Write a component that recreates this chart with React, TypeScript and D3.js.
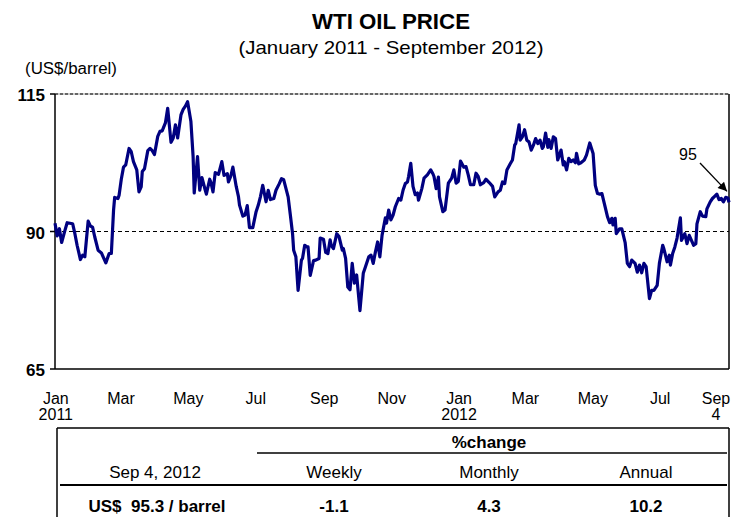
import React from 'react'
import * as d3 from 'd3'

// WTI spot price (US$/barrel)
const wti2011: [string, number][] = [
  ['2011-01-03', 91.5], ['2011-01-05', 89.2], ['2011-01-07', 90.5], ['2011-01-09', 88.0], ['2011-01-12', 90.2],
  ['2011-01-14', 91.6], ['2011-01-19', 91.4], ['2011-01-21', 89.6], ['2011-01-23', 87.5], ['2011-01-26', 84.9],
  ['2011-01-28', 85.7], ['2011-01-30', 85.4], ['2011-02-02', 91.9], ['2011-02-04', 91.0], ['2011-02-06', 90.8],
  ['2011-02-08', 89.0], ['2011-02-11', 86.6], ['2011-02-14', 86.1], ['2011-02-18', 84.3], ['2011-02-21', 86.0],
  ['2011-02-23', 86.0], ['2011-02-25', 93.9], ['2011-02-26', 96.2], ['2011-03-01', 96.0], ['2011-03-02', 96.6],
  ['2011-03-04', 99.5], ['2011-03-06', 101.7], ['2011-03-08', 102.1], ['2011-03-11', 105.1], ['2011-03-13', 104.5],
  ['2011-03-15', 102.7], ['2011-03-18', 101.2], ['2011-03-20', 97.2], ['2011-03-22', 98.1], ['2011-03-23', 100.9],
  ['2011-03-25', 101.4], ['2011-03-28', 104.7], ['2011-03-30', 105.1], ['2011-04-01', 104.7], ['2011-04-03', 104.0],
  ['2011-04-06', 107.3], ['2011-04-08', 108.2], ['2011-04-10', 108.3], ['2011-04-13', 109.8], ['2011-04-15', 112.4],
  ['2011-04-18', 106.2], ['2011-04-20', 107.0], ['2011-04-22', 109.4], ['2011-04-24', 107.0], ['2011-04-27', 111.2],
  ['2011-04-29', 112.2], ['2011-05-01', 112.8], ['2011-05-03', 113.6], ['2011-05-06', 110.0], ['2011-05-08', 103.6],
  ['2011-05-09', 97.0], ['2011-05-12', 103.6], ['2011-05-14', 97.5], ['2011-05-16', 99.8], ['2011-05-19', 97.5],
  ['2011-05-20', 96.8], ['2011-05-23', 99.5], ['2011-05-24', 99.0], ['2011-05-26', 97.2], ['2011-05-28', 100.7],
  ['2011-05-31', 100.4], ['2011-06-03', 102.7], ['2011-06-05', 100.2], ['2011-06-08', 100.5], ['2011-06-09', 99.0],
  ['2011-06-11', 100.0], ['2011-06-13', 101.7], ['2011-06-16', 98.2], ['2011-06-18', 96.4], ['2011-06-19', 94.8],
  ['2011-06-22', 92.8], ['2011-06-24', 93.0], ['2011-06-26', 94.7], ['2011-06-28', 90.7], ['2011-07-01', 90.7],
  ['2011-07-04', 93.6], ['2011-07-06', 94.8], ['2011-07-08', 96.4], ['2011-07-10', 98.4], ['2011-07-13', 95.4],
  ['2011-07-15', 97.5], ['2011-07-17', 95.8], ['2011-07-20', 96.0], ['2011-07-22', 97.5], ['2011-07-25', 98.7],
  ['2011-07-27', 99.6], ['2011-07-29', 99.4], ['2011-08-02', 96.3], ['2011-08-04', 93.0], ['2011-08-06', 89.6],
  ['2011-08-07', 86.6], ['2011-08-09', 85.4], ['2011-08-11', 79.3], ['2011-08-14', 84.8], ['2011-08-15', 85.1],
  ['2011-08-17', 87.5], ['2011-08-19', 87.2], ['2011-08-20', 87.2], ['2011-08-22', 82.0], ['2011-08-25', 84.7],
  ['2011-08-27', 84.8], ['2011-08-30', 85.1], ['2011-08-31', 88.8], ['2011-09-03', 88.6], ['2011-09-05', 86.2],
  ['2011-09-07', 86.0], ['2011-09-09', 88.5], ['2011-09-10', 87.5], ['2011-09-12', 86.9], ['2011-09-15', 89.6],
  ['2011-09-17', 89.1], ['2011-09-20', 86.6], ['2011-09-21', 86.9], ['2011-09-23', 85.1], ['2011-09-25', 79.9],
  ['2011-09-27', 79.4], ['2011-09-29', 84.2], ['2011-10-01', 80.6], ['2011-10-03', 82.1], ['2011-10-06', 75.6],
  ['2011-10-09', 82.4], ['2011-10-11', 83.6], ['2011-10-14', 85.4], ['2011-10-16', 85.7], ['2011-10-18', 84.2],
  ['2011-10-20', 86.3], ['2011-10-22', 88.1], ['2011-10-24', 85.4], ['2011-10-26', 89.3], ['2011-10-29', 92.5],
  ['2011-10-30', 91.5], ['2011-11-01', 93.9], ['2011-11-03', 92.1], ['2011-11-05', 93.0], ['2011-11-07', 94.5],
  ['2011-11-10', 96.0], ['2011-11-12', 95.7], ['2011-11-14', 97.5], ['2011-11-16', 98.7], ['2011-11-18', 99.0],
  ['2011-11-19', 100.0], ['2011-11-21', 102.4], ['2011-11-23', 98.2], ['2011-11-25', 96.7], ['2011-11-27', 97.0],
  ['2011-11-28', 95.7], ['2011-12-01', 97.8], ['2011-12-03', 99.7], ['2011-12-06', 100.3], ['2011-12-09', 101.2],
  ['2011-12-11', 100.5], ['2011-12-12', 100.0], ['2011-12-14', 97.8], ['2011-12-16', 99.9], ['2011-12-17', 96.3],
  ['2011-12-20', 93.6], ['2011-12-22', 93.9], ['2011-12-25', 98.8], ['2011-12-28', 99.7], ['2011-12-30', 101.2],
]

const wti2012: [string, number][] = [
  ['2012-01-01', 98.8], ['2012-01-03', 99.1], ['2012-01-05', 102.8], ['2012-01-08', 101.7], ['2012-01-10', 101.8],
  ['2012-01-12', 100.3], ['2012-01-14', 98.5], ['2012-01-17', 98.5], ['2012-01-19', 100.6], ['2012-01-21', 100.0],
  ['2012-01-23', 98.5], ['2012-01-26', 98.9], ['2012-01-28', 99.5], ['2012-01-31', 98.9], ['2012-02-03', 98.2],
  ['2012-02-05', 96.3], ['2012-02-08', 97.2], ['2012-02-10', 97.5], ['2012-02-12', 99.0], ['2012-02-14', 98.7],
  ['2012-02-16', 101.2], ['2012-02-19', 102.3], ['2012-02-21', 103.0], ['2012-02-23', 105.7], ['2012-02-24', 106.0],
  ['2012-02-27', 109.4], ['2012-02-28', 106.6], ['2012-03-01', 107.2], ['2012-03-03', 108.5], ['2012-03-05', 106.6],
  ['2012-03-07', 106.3], ['2012-03-09', 104.8], ['2012-03-11', 105.7], ['2012-03-13', 106.9], ['2012-03-15', 106.0],
  ['2012-03-17', 106.6], ['2012-03-19', 105.1], ['2012-03-20', 105.4], ['2012-03-22', 107.9], ['2012-03-24', 105.3],
  ['2012-03-25', 106.7], ['2012-03-27', 105.1], ['2012-03-29', 107.2], ['2012-03-31', 106.9], ['2012-04-02', 103.0],
  ['2012-04-05', 104.8], ['2012-04-07', 102.1], ['2012-04-08', 102.7], ['2012-04-10', 101.2], ['2012-04-12', 103.3],
  ['2012-04-14', 102.7], ['2012-04-16', 103.0], ['2012-04-18', 102.5], ['2012-04-19', 104.2], ['2012-04-21', 102.3],
  ['2012-04-23', 102.5], ['2012-04-26', 103.0], ['2012-04-28', 103.9], ['2012-05-01', 106.1], ['2012-05-04', 104.2],
  ['2012-05-06', 98.4], ['2012-05-08', 96.9], ['2012-05-10', 96.8], ['2012-05-12', 96.9], ['2012-05-15', 94.4],
  ['2012-05-17', 92.7], ['2012-05-19', 91.6], ['2012-05-21', 92.4], ['2012-05-22', 91.2], ['2012-05-24', 92.4],
  ['2012-05-25', 89.6], ['2012-05-28', 90.5], ['2012-05-30', 90.5], ['2012-06-02', 88.0], ['2012-06-04', 84.2],
  ['2012-06-06', 83.6], ['2012-06-08', 84.8], ['2012-06-11', 84.2], ['2012-06-13', 82.6], ['2012-06-15', 83.9],
  ['2012-06-17', 82.5], ['2012-06-19', 84.2], ['2012-06-21', 83.6], ['2012-06-24', 77.8], ['2012-06-26', 79.3],
  ['2012-06-28', 79.3], ['2012-07-01', 80.2], ['2012-07-03', 84.2], ['2012-07-06', 87.5], ['2012-07-07', 86.9],
  ['2012-07-10', 84.5], ['2012-07-12', 85.7], ['2012-07-13', 83.9], ['2012-07-15', 86.0], ['2012-07-17', 87.2],
  ['2012-07-19', 88.8], ['2012-07-22', 92.5], ['2012-07-23', 88.4], ['2012-07-26', 89.6], ['2012-07-28', 87.8],
  ['2012-07-30', 89.3], ['2012-08-01', 88.4], ['2012-08-03', 87.5], ['2012-08-05', 87.8], ['2012-08-06', 91.4],
  ['2012-08-09', 93.6], ['2012-08-11', 92.8], ['2012-08-14', 92.7], ['2012-08-15', 94.1], ['2012-08-18', 95.4],
  ['2012-08-20', 96.0], ['2012-08-22', 96.4], ['2012-08-24', 96.8], ['2012-08-26', 95.8], ['2012-08-28', 96.0],
  ['2012-08-30', 95.4], ['2012-09-01', 96.2], ['2012-09-03', 96.1], ['2012-09-04', 95.3],
]

const yTicks = [65, 90, 115]
const monthTicks = ['2011-01-01', '2011-03-01', '2011-05-01', '2011-07-01', '2011-09-01', '2011-11-01',
  '2012-01-01', '2012-03-01', '2012-05-01', '2012-07-01', '2012-09-01']
const monthLabels = ['Jan', 'Mar', 'May', 'Jul', 'Sep', 'Nov', 'Jan', 'Mar', 'May', 'Jul', 'Sep']
const subLabels = ['2011', '', '', '', '', '', '2012', '', '', '', '4']

const tableHeads = ['Weekly', 'Monthly', 'Annual']
const tableValues = ['-1.1', '4.3', '10.2']
const latestDate = 'Sep 4, 2012'
const latestPrice = 'US$  95.3 / barrel'
const calloutValue = '95'

const FONT = '"Liberation Sans", Arial, sans-serif'
const parse = d3.timeParse('%Y-%m-%d')

export default function App() {
  const data = [...wti2011, ...wti2012].map(([d, v]) => ({ date: parse(d) as Date, v }))

  const x = d3.scaleTime()
    .domain([parse('2011-01-03') as Date, parse('2012-09-04') as Date])
    .range([55, 729])
  const y = d3.scaleLinear().domain([65, 115]).range([369, 94])

  const line = d3.line<{ date: Date, v: number }>()
    .x(d => x(d.date))
    .y(d => y(d.v))

  const last = data[data.length - 1]
  const tipX = x(last.date) - 2
  const tipY = y(last.v) - 11

  const colX = [334, 489, 646]

  return (
    <svg width={732} height={517} style={{ position: 'absolute', left: 0, top: 0, fontFamily: FONT }}>
      <rect width={732} height={517} fill="#fff" />
      <defs>
        <marker id="arr" viewBox="0 0 10 10" refX="10" refY="5" markerWidth="11" markerHeight="9"
          markerUnits="userSpaceOnUse" orient="auto">
          <path d="M0,0 L10,5 L0,10 z" fill="#000" />
        </marker>
      </defs>

      <text x={391} y={29} textAnchor="middle" fontSize={22} fontWeight="bold" textLength={158} lengthAdjust="spacingAndGlyphs">WTI OIL PRICE</text>
      <text x={391} y={54} textAnchor="middle" fontSize={19} textLength={305} lengthAdjust="spacingAndGlyphs">(January 2011 - September 2012)</text>
      <text x={25} y={74} fontSize={16} textLength={92} lengthAdjust="spacingAndGlyphs">(US$/barrel)</text>

      {/* gridlines */}
      <line x1={55} x2={729} y1={y(115)} y2={y(115)} stroke="#999" strokeWidth={1} />
      <line x1={55} x2={729} y1={y(115)} y2={y(115)} stroke="#000" strokeWidth={1} strokeDasharray="3,2" />
      <line x1={55} x2={729} y1={y(90)} y2={y(90)} stroke="#000" strokeWidth={1} strokeDasharray="4,3" />

      {/* frame */}
      <line x1={55} x2={55} y1={y(115)} y2={y(65)} stroke="#000" strokeWidth={1.5} />
      <line x1={729} x2={729} y1={y(115)} y2={y(65)} stroke="#000" strokeWidth={1.5} />
      <line x1={55} x2={729} y1={y(65)} y2={y(65)} stroke="#000" strokeWidth={1.5} />

      {yTicks.map(t => (
        <g key={t}>
          <line x1={50} x2={55} y1={y(t)} y2={y(t)} stroke="#000" strokeWidth={1.5} />
          <text x={45} y={y(t) + 7} textAnchor="end" fontSize={17} fontWeight="bold">{t}</text>
        </g>
      ))}

      {monthTicks.map((m, i) => {
        const cx = Math.min(x(parse(m) as Date) + 3, 716)
        return (
          <g key={i}>
            <text x={cx} y={404} textAnchor="middle" fontSize={16}>{monthLabels[i]}</text>
            {subLabels[i] && <text x={cx} y={420} textAnchor="middle" fontSize={16}>{subLabels[i]}</text>}
          </g>
        )
      })}

      <path d={line(data) || ''} fill="none" stroke="#000080" strokeWidth={3.2} strokeLinejoin="round" />

      {/* callout */}
      <text x={688} y={160} textAnchor="middle" fontSize={16}>{calloutValue}</text>
      <line x1={700} y1={163} x2={tipX} y2={tipY} stroke="#000" strokeWidth={1.3} markerEnd="url(#arr)" />

      {/* summary table */}
      <line x1={57} x2={729} y1={428} y2={428} stroke="#000" strokeWidth={1.5} />
      <line x1={57} x2={57} y1={428} y2={517} stroke="#000" strokeWidth={1.5} />
      <line x1={729} x2={729} y1={428} y2={517} stroke="#000" strokeWidth={1.5} />
      <text x={489} y={448} textAnchor="middle" fontSize={17} fontWeight="bold">%change</text>
      <line x1={257} x2={727} y1={453} y2={453} stroke="#000" strokeWidth={1.5} />
      <text x={155} y={478} textAnchor="middle" fontSize={17}>{latestDate}</text>
      {tableHeads.map((h, i) => (
        <text key={h} x={colX[i]} y={478} textAnchor="middle" fontSize={17}>{h}</text>
      ))}
      <line x1={60} x2={727} y1={485} y2={485} stroke="#000" strokeWidth={2} />
      <text x={157} y={512} textAnchor="middle" fontSize={17} fontWeight="bold" style={{ whiteSpace: 'pre' }}>{latestPrice}</text>
      {tableValues.map((v, i) => (
        <text key={i} x={colX[i]} y={512} textAnchor="middle" fontSize={17} fontWeight="bold">{v}</text>
      ))}
    </svg>
  )
}
